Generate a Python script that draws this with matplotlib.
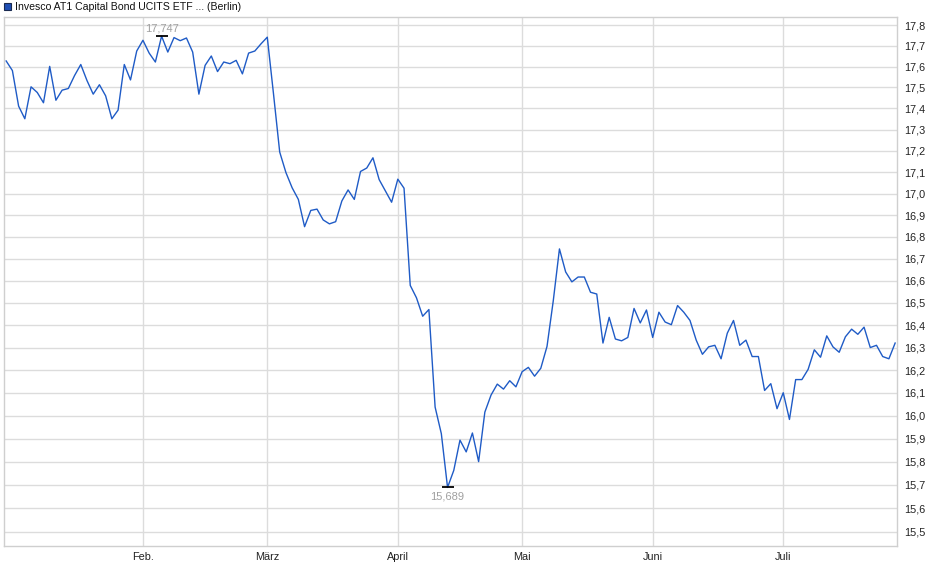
import numpy as np
import pandas as pd
import matplotlib
matplotlib.use('Agg')
import matplotlib.pyplot as plt
from matplotlib.ticker import FixedLocator, NullLocator, FuncFormatter
from matplotlib.patches import Rectangle

plt.rcParams['font.family'] = ['Liberation Sans', 'DejaVu Sans']

title = "Invesco AT1 Capital Bond UCITS ETF ... (Berlin)"
holidays = ['2025-04-18', '2025-04-21', '2025-05-01']
dates = pd.bdate_range('2025-01-02', '2025-07-25')
dates = dates[~dates.isin(pd.to_datetime(holidays))]

prices = [
    17.627, 17.581, 17.411, 17.351, 17.503, 17.476, 17.427, 17.601, 17.439, 17.487,
    17.495, 17.557, 17.610, 17.533, 17.468, 17.513, 17.460, 17.351, 17.392, 17.610,
    17.536, 17.675, 17.727, 17.665, 17.622, 17.747, 17.670, 17.740, 17.725, 17.738,
    17.670, 17.468, 17.606, 17.651, 17.576, 17.622, 17.614, 17.630, 17.565, 17.665,
    17.675, 17.710, 17.742, 17.470, 17.194, 17.098, 17.027, 16.973, 16.847, 16.922,
    16.928, 16.878, 16.860, 16.870, 16.966, 17.017, 16.973, 17.103, 17.119, 17.167,
    17.065, 17.012, 16.960, 17.067, 17.025, 16.579, 16.523, 16.440, 16.470, 16.037,
    15.921, 15.689, 15.762, 15.893, 15.842, 15.924, 15.800, 16.015, 16.090, 16.138,
    16.116, 16.153, 16.126, 16.193, 16.212, 16.173, 16.208, 16.305, 16.508, 16.745,
    16.640, 16.595, 16.617, 16.617, 16.548, 16.540, 16.320, 16.435, 16.338, 16.330,
    16.345, 16.475, 16.410, 16.468, 16.345, 16.458, 16.414, 16.402, 16.488, 16.458,
    16.421, 16.333, 16.270, 16.303, 16.310, 16.250, 16.364, 16.421, 16.310, 16.333,
    16.260, 16.260, 16.110, 16.140, 16.030, 16.100, 15.983, 16.158, 16.158, 16.203,
    16.290, 16.257, 16.352, 16.303, 16.279, 16.348, 16.382, 16.359, 16.391, 16.300,
    16.310, 16.260, 16.250, 16.320,
]
month_names = ['Feb.', 'März', 'April', 'Mai', 'Juni', 'Juli']
month_nums = [2, 3, 4, 5, 6, 7]
y_ticks = [15.5, 15.6, 15.7, 15.8, 15.9, 16.0, 16.1, 16.2, 16.3, 16.4, 16.5, 16.6,
           16.7, 16.8, 16.9, 17.0, 17.1, 17.2, 17.3, 17.4, 17.5, 17.6, 17.7, 17.8]

x = np.arange(len(prices))
prices = np.array(prices)
month_pos = [int(np.argmax(dates.month == m)) for m in month_nums]

grid_c = '#dcdcdc'
line_c = '#1f5bc6'

fig = plt.figure(figsize=(9.4, 5.79), dpi=100)
ax = fig.add_axes([4 / 940, 1 - 546 / 579, 893 / 940, 529 / 579])

ax.plot(x, prices, color=line_c, linewidth=1.0, zorder=3)

ax.set_yscale('log')
ax.set_ylim(15.44, 17.84)
ax.set_xlim(-0.35, len(prices) - 0.7)

ax.yaxis.tick_right()
ax.yaxis.set_major_locator(FixedLocator(y_ticks))
ax.yaxis.set_minor_locator(NullLocator())
ax.yaxis.set_major_formatter(FuncFormatter(lambda v, _: f"{v:.1f}".replace('.', ',')))
ax.set_xticks(month_pos)
ax.set_xticklabels(month_names)
ax.tick_params(axis='y', length=0, labelsize=7.8, pad=5, colors='#222222')
ax.tick_params(axis='x', length=0, labelsize=7.8, pad=4, colors='#222222')

ax.grid(True, color=grid_c, linewidth=1.0, zorder=0)
for s in ax.spines.values():
    s.set_color('#cfcfcf')
    s.set_linewidth(1.0)

# max / min markers
i_max = int(np.argmax(prices))
i_min = int(np.argmin(prices))
for i, off, va in [(i_max, 2, 'bottom'), (i_min, -3, 'top')]:
    ax.plot(i, prices[i], marker='_', markersize=9, mew=1.3, color='black', zorder=4)
    ax.annotate(f"{prices[i]:.3f}".replace('.', ','), (i, prices[i]),
                textcoords='offset points', xytext=(0, off), ha='center', va=va,
                fontsize=8, color='#a0a0a0')

# legend square + title
fig.patches.append(Rectangle((4 / 940, 1 - 10 / 579), 7 / 940, 7 / 579,
                             transform=fig.transFigure, facecolor='#1f4fb4',
                             edgecolor='#1a2a50', linewidth=0.8))
fig.text(15 / 940, 1 - 6.5 / 579, title, fontsize=7.6, color='#111111', va='center', ha='left')

fig.savefig('out.png', dpi=100, facecolor='white')
